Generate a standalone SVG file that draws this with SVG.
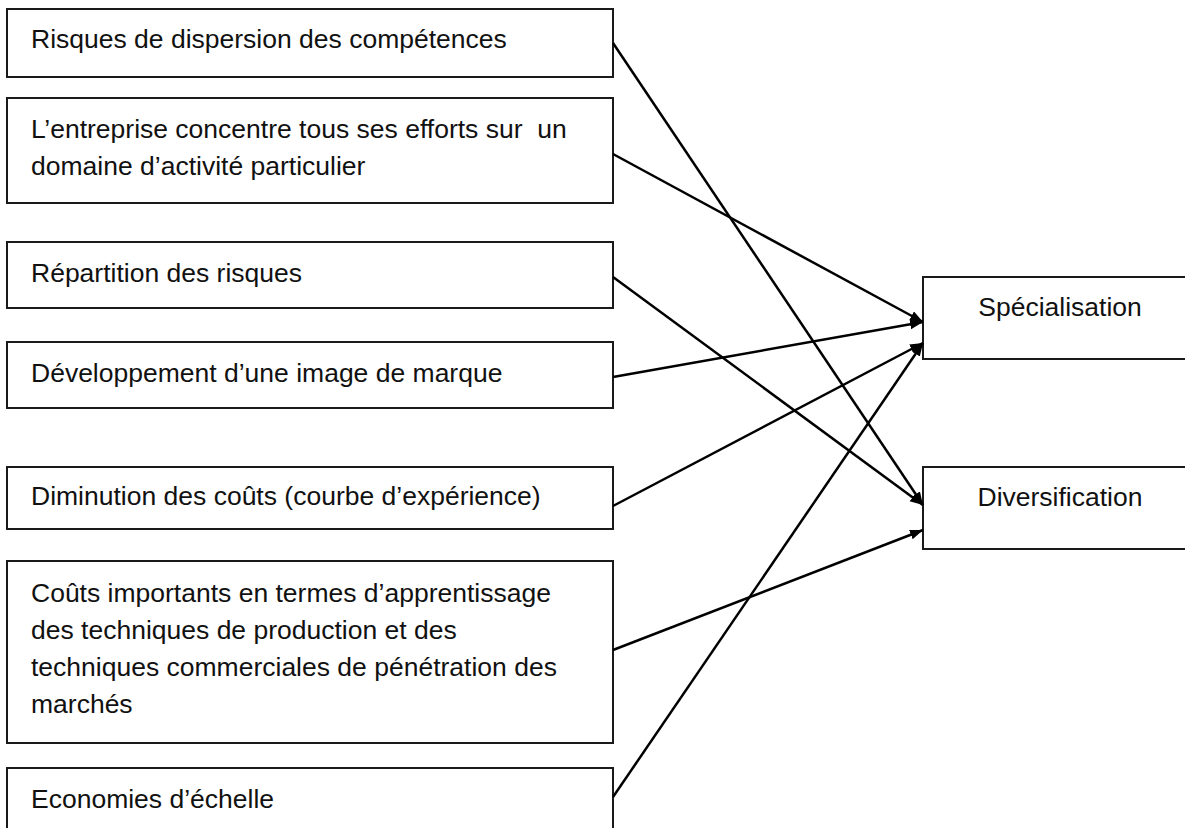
<svg xmlns="http://www.w3.org/2000/svg" width="1185" height="828" viewBox="0 0 1185 828">
<style>
  .box { fill: #ffffff; stroke: #1a1a1a; stroke-width: 2; }
  .lbl { font-family: "Liberation Sans", Arial, sans-serif; font-size: 26.5px; fill: #111111; white-space: pre; }
  .mid { text-anchor: middle; }
  .conn { stroke: #000000; stroke-width: 2.5; fill: none; marker-end: url(#arrow); }
</style>
<defs>
  <marker id="arrow" markerUnits="userSpaceOnUse" markerWidth="14" markerHeight="12" refX="13" refY="5" orient="auto">
    <path d="M0,0 L13,5 L0,10 z" fill="#000000"/>
  </marker>
</defs>
<rect width="1185" height="828" fill="#ffffff"/>

<g id="n1">
  <rect class="box" x="7" y="9" width="606" height="68"/>
  <text class="lbl" x="31" y="48">Risques de dispersion des compétences</text>
</g>
<g id="n2">
  <rect class="box" x="7" y="98" width="606" height="105"/>
  <text class="lbl" x="31" y="138" xml:space="preserve">L’entreprise concentre tous ses efforts sur  un</text>
  <text class="lbl" x="31" y="175">domaine d’activité particulier</text>
</g>
<g id="n3">
  <rect class="box" x="7" y="242" width="606" height="66"/>
  <text class="lbl" x="31" y="282">Répartition des risques</text>
</g>
<g id="n4">
  <rect class="box" x="7" y="342" width="606" height="66"/>
  <text class="lbl" x="31" y="382">Développement d’une image de marque</text>
</g>
<g id="n5">
  <rect class="box" x="7" y="467" width="606" height="62"/>
  <text class="lbl" x="31" y="505">Diminution des coûts (courbe d’expérience)</text>
</g>
<g id="n6">
  <rect class="box" x="7" y="561" width="606" height="182"/>
  <text class="lbl" x="31" y="602">Coûts importants en termes d’apprentissage</text>
  <text class="lbl" x="31" y="639">des techniques de production et des</text>
  <text class="lbl" x="31" y="676">techniques commerciales de pénétration des</text>
  <text class="lbl" x="31" y="713">marchés</text>
</g>
<g id="n7">
  <rect class="box" x="7" y="768" width="606" height="80"/>
  <text class="lbl" x="31" y="808">Economies d’échelle</text>
</g>
<g id="spec">
  <rect class="box" x="923" y="277" width="280" height="82"/>
  <text class="lbl mid" x="1060" y="316">Spécialisation</text>
</g>
<g id="div">
  <rect class="box" x="923" y="467" width="280" height="82"/>
  <text class="lbl mid" x="1060" y="506">Diversification</text>
</g>

<g id="connectors">
  <line class="conn" x1="613" y1="43" x2="923" y2="505"/>
  <line class="conn" x1="613" y1="154" x2="923" y2="322"/>
  <line class="conn" x1="613" y1="277" x2="923" y2="505"/>
  <line class="conn" x1="613" y1="377" x2="923" y2="322"/>
  <line class="conn" x1="613" y1="506" x2="923" y2="343"/>
  <line class="conn" x1="613" y1="650" x2="923" y2="530"/>
  <line class="conn" x1="613" y1="797" x2="923" y2="343"/>
</g>
</svg>
